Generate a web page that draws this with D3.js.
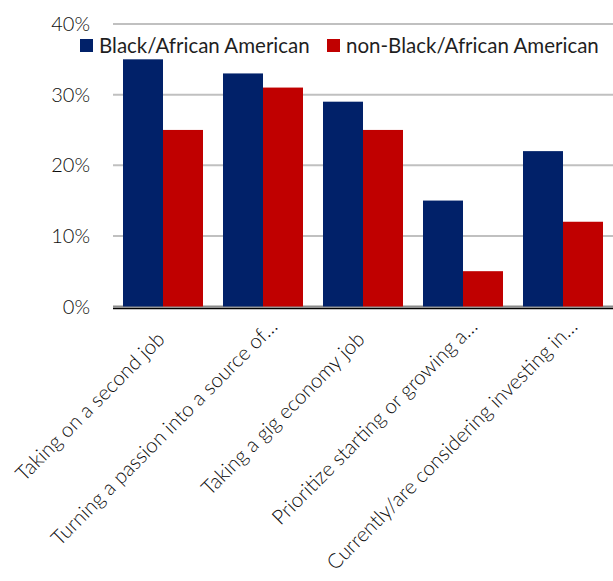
<!DOCTYPE html>
<html>
<head>
<meta charset="utf-8">
<script src="https://cdn.jsdelivr.net/npm/d3@7"></script>
<style>
  body { margin: 0; background: #fff; }
  text { font-family: Lato, "Open Sans", sans-serif; font-weight: 400; fill: #1f1f1f; }
</style>
</head>
<body>
<svg id="chart" width="613" height="581"></svg>
<script>
// Survey categories (long ones are truncated with an ellipsis)
const categories = [
  "Taking on a second job",
  "Turning a passion into a source of…",
  "Taking a gig economy job",
  "Prioritize starting or growing a…",
  "Currently/are considering investing in…"
];
const seriesNames = ["Black/African American", "non-Black/African American"];
const blackValues = [35, 33, 29, 15, 22];
const nonBlackValues = [25, 31, 25, 5, 12];
const yTicks = [0, 10, 20, 30, 40];
const colors = ["#012169", "#c00000"];

const svg = d3.select("#chart");
const W = 613;

const x = d3.scaleBand().domain(categories).range([113, W]).paddingInner(0.2).paddingOuter(0.1);
const xs = d3.scaleBand().domain(seriesNames).range([0, x.bandwidth()]);
const y = d3.scaleLinear().domain([0, 40]).range([306.5, 24]);

// horizontal gridlines
svg.append("g").selectAll("line").data(yTicks).join("line")
  .attr("x1", 113).attr("x2", W)
  .attr("y1", d => y(d)).attr("y2", d => y(d))
  .attr("stroke", d => d === 0 ? "#8c8c8c" : "#c0c0c0")
  .attr("stroke-width", 2);

// y tick labels
svg.append("g").selectAll("text").data(yTicks).join("text")
  .attr("x", 90).attr("y", d => y(d) + 7)
  .attr("text-anchor", "end")
  .style("font-size", "20px")
  .style("font-weight", 300)
  .style("fill", "#0d0d0d")
  .text(d => d + "%");

// bars
const rows = categories.map((c, i) => ({ c, vals: [blackValues[i], nonBlackValues[i]] }));
const groups = svg.append("g").selectAll("g").data(rows).join("g")
  .attr("transform", d => `translate(${x(d.c)},0)`);
groups.selectAll("rect").data(d => d.vals.map((v, k) => ({ k, v }))).join("rect")
  .attr("x", d => xs(seriesNames[d.k]))
  .attr("width", xs.bandwidth())
  .attr("y", d => y(d.v))
  .attr("height", d => y(0) - y(d.v))
  .attr("fill", d => colors[d.k]);

// category axis line
svg.append("line").attr("x1", 113).attr("x2", W)
  .attr("y1", y(0) + 2).attr("y2", y(0) + 2)
  .attr("stroke", "#000").attr("stroke-width", 1.3);

// rotated category labels; truncated labels sit a little further along their baseline
svg.append("g").selectAll("text").data(categories).join("text")
  .attr("transform", d => {
    const cx = x(d) + x.bandwidth() / 2;
    const shift = d.endsWith("…") ? 18 : 0;
    const ex = cx + 3 + shift * Math.SQRT1_2;
    const ey = y(0) + 34 - shift * Math.SQRT1_2;
    return `translate(${ex},${ey}) rotate(-45)`;
  })
  .attr("text-anchor", "end")
  .style("font-size", "20.5px")
  .style("font-weight", 300)
  .style("fill", "#0d0d0d")
  .text(d => d);

// legend
const legend = svg.append("g");
const legendX = [80, 327];
seriesNames.forEach((name, k) => {
  legend.append("rect").attr("x", legendX[k]).attr("y", 39).attr("width", 13).attr("height", 13).attr("fill", colors[k]);
  legend.append("text").attr("x", legendX[k] + 19).attr("y", 52.5).style("font-size", "20.5px").text(name);
});
</script>
</body>
</html>
